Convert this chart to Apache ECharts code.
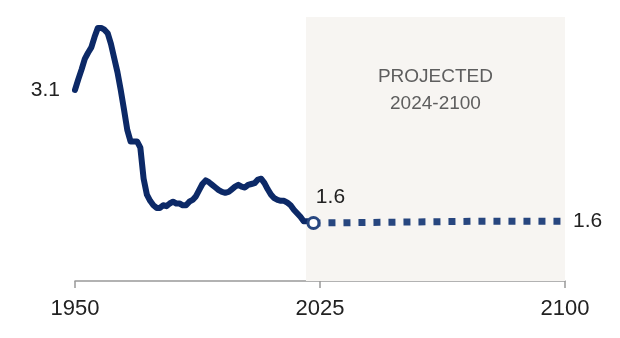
<!DOCTYPE html>
<html>
<head>
<meta charset="utf-8">
<script src="https://cdn.jsdelivr.net/npm/echarts@6/dist/echarts.min.js"></script>
<style>
  html, body { margin: 0; padding: 0; background: #fff; }
  #chart { width: 620px; height: 338px; }
</style>
</head>
<body>
<div id="chart"></div>
<script>
// Total fertility rate, observed 1950-2023
const histYears = [
  1950, 1951, 1952, 1953, 1954, 1955, 1956, 1957, 1958, 1959,
  1960, 1961, 1962, 1963, 1964, 1965, 1966, 1967, 1968, 1969,
  1970, 1971, 1972, 1973, 1974, 1975, 1976, 1977, 1978, 1979,
  1980, 1981, 1982, 1983, 1984, 1985, 1986, 1987, 1988, 1989,
  1990, 1991, 1992, 1993, 1994, 1995, 1996, 1997, 1998, 1999,
  2000, 2001, 2002, 2003, 2004, 2005, 2006, 2007, 2008, 2009,
  2010, 2011, 2012, 2013, 2014, 2015, 2016, 2017, 2018, 2019,
  2020, 2021, 2022, 2023
];
const histValues = [
  3.10, 3.22, 3.33, 3.45, 3.52, 3.58, 3.70, 3.80, 3.80, 3.78,
  3.74, 3.62, 3.46, 3.30, 3.10, 2.88, 2.65, 2.52, 2.52, 2.52,
  2.45, 2.10, 1.92, 1.85, 1.80, 1.77, 1.77, 1.80, 1.79, 1.82,
  1.84, 1.82, 1.82, 1.80, 1.80, 1.84, 1.86, 1.90, 1.97, 2.04,
  2.08, 2.06, 2.03, 2.00, 1.97, 1.95, 1.94, 1.95, 1.98, 2.01,
  2.03, 2.01, 2.00, 2.03, 2.04, 2.05, 2.09, 2.10, 2.05, 1.98,
  1.92, 1.88, 1.86, 1.85, 1.85, 1.83, 1.80, 1.75, 1.71, 1.67,
  1.62, 1.62, 1.61, 1.60
];

// Projection, 2023-2100
const projYears = [2023, 2050, 2075, 2100];
const projValues = [1.60, 1.61, 1.62, 1.62];

// Axis ticks and shaded projection window
const xTicks = [1950, 2025, 2100];
const shadeRange = [2020.7, 2100];
const shadeLabel = ['PROJECTED', '2024-2100'];

const FONT = '"Liberation Sans", Arial, sans-serif';
const NAVY = '#0c2967';
const NAVY_DOT = '#27467f';

const histData = histYears.map((y, i) => [y, histValues[i]]);
const projData = projYears.map((y, i) => [y, projValues[i]]);
const lastIdx = histData.length - 1;

const valueLabel = {
  show: true,
  fontFamily: FONT,
  fontSize: 21,
  color: '#222222',
  formatter: p => p.value[1].toFixed(1)
};

const chart = echarts.init(document.getElementById('chart'), null, { renderer: 'canvas' });

chart.setOption({
  animation: false,
  backgroundColor: '#ffffff',
  grid: { left: 75, right: 55, top: 17, bottom: 57 },
  xAxis: {
    type: 'value',
    min: xTicks[0],
    max: xTicks[xTicks.length - 1],
    interval: xTicks[1] - xTicks[0],
    axisLine: { show: true, lineStyle: { color: '#999999', width: 1.5 } },
    axisTick: { show: true, length: 7, lineStyle: { color: '#999999', width: 1.5 } },
    axisLabel: {
      fontFamily: FONT, fontSize: 22, color: '#222222', margin: 17,
      formatter: v => String(v)
    },
    splitLine: { show: false }
  },
  yAxis: {
    type: 'value',
    min: 0.946,
    max: 3.923,
    show: false,
    splitLine: { show: false }
  },
  series: [
    {
      type: 'line',
      data: projData,
      symbol: 'none',
      lineStyle: { color: NAVY_DOT, width: 7, type: [7, 8], cap: 'butt' },
      z: 2,
      markArea: {
        silent: true,
        itemStyle: { color: '#f7f5f2' },
        label: {
          show: true,
          position: 'insideTop',
          distance: 46,
          fontFamily: FONT,
          fontSize: 19,
          lineHeight: 27,
          color: '#5e5e5e',
          align: 'center',
          formatter: shadeLabel.join('\n')
        },
        data: [[{ xAxis: shadeRange[0] }, { xAxis: shadeRange[1] }]]
      },
      endLabel: Object.assign({}, valueLabel, { distance: 8 })
    },
    {
      type: 'line',
      data: histData.map((d, i) => {
        if (i === 0) {
          return {
            value: d,
            label: Object.assign({}, valueLabel, { position: 'left', distance: 15 })
          };
        }
        if (i === lastIdx) {
          return {
            value: d,
            symbolSize: 11,
            itemStyle: { color: '#ffffff', borderColor: NAVY_DOT, borderWidth: 3 },
            label: Object.assign({}, valueLabel, { position: 'top', distance: 8, offset: [17, 0] })
          };
        }
        return d;
      }),
      symbol: 'circle',
      symbolSize: 0,
      showSymbol: true,
      showAllSymbol: true,
      itemStyle: { color: 'rgba(0,0,0,0)' },
      smooth: false,
      lineStyle: { color: NAVY, width: 6, join: 'round', cap: 'round' },
      z: 3
    }
  ]
});
</script>
</body>
</html>
